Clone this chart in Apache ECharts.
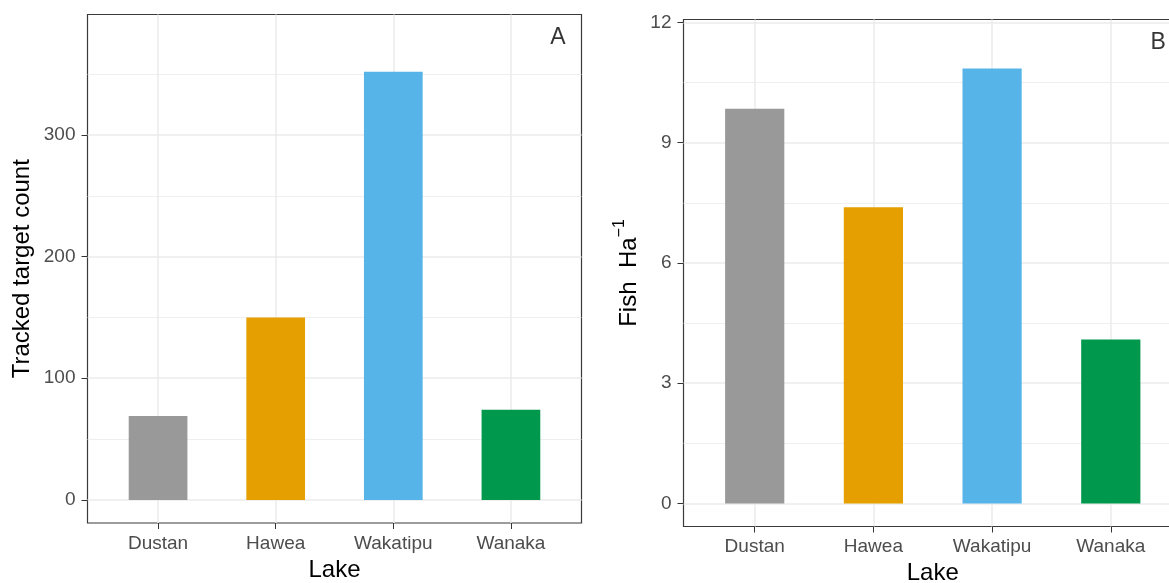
<!DOCTYPE html>
<html>
<head>
<meta charset="utf-8">
<title>Lake acoustic survey</title>
<script src="https://cdn.jsdelivr.net/npm/echarts@6/dist/echarts.min.js"></script>
<style>
  html, body { margin: 0; padding: 0; background: #ffffff; }
  #chart { width: 1169px; height: 583px; }
</style>
</head>
<body>
<div id="chart"></div>
<script>
// Lakes and their per-lake survey results
const lakes = ['Dustan', 'Hawea', 'Wakatipu', 'Wanaka'];
const trackedCounts = [69, 150, 352, 74];
const fishDensity = [9.85, 7.39, 10.85, 4.09];
const barColors = ['#999999', '#E69F00', '#56B4E9', '#00984C'];

// Axis breaks
const lakePositions = [1, 2, 3, 4];
const countTicks = [0, 100, 200, 300];
const countMinorTicks = [50, 150, 250, 350];
const densityTicks = [0, 3, 6, 9, 12];
const densityMinorTicks = [1.5, 4.5, 7.5, 10.5];

// Panel tags, placed in data space
const panelTags = [
  { text: 'A', x: 4.4, y: 380 },
  { text: 'B', x: 4.4, y: 11.5 }
];

const FONT = '"Liberation Sans", Arial, Helvetica, sans-serif';
const GRID_MAJOR = '#ebebeb';
const TICK_COLOR = '#333333';

function lakeAxis(gridIndex) {
  return {
    type: 'value',
    gridIndex: gridIndex,
    min: 0.4,
    max: 4.6,
    axisLine: { show: false, onZero: false },
    axisTick: { show: true, customValues: lakePositions, length: 6, lineStyle: { color: TICK_COLOR, width: 1 } },
    axisLabel: {
      customValues: lakePositions,
      formatter: v => lakes[Math.round(v) - 1] || '',
      color: '#4d4d4d', fontSize: 19, fontFamily: FONT, margin: 11
    },
    splitLine: { show: true, lineStyle: { color: GRID_MAJOR, width: 1.5 } },
    name: 'Lake',
    nameLocation: 'middle',
    nameGap: 34,
    nameTextStyle: { color: '#000000', fontSize: 24, fontFamily: FONT }
  };
}

function valueAxis(gridIndex, min, max, ticks, name, nameGap, nameStyle) {
  return {
    type: 'value',
    gridIndex: gridIndex,
    min: min,
    max: max,
    axisLine: { show: false, onZero: false },
    axisTick: { show: true, customValues: ticks, length: 6, lineStyle: { color: TICK_COLOR, width: 1 } },
    axisLabel: { customValues: ticks, color: '#4d4d4d', fontSize: 19, fontFamily: FONT, margin: 12 },
    splitLine: { show: true, lineStyle: { color: GRID_MAJOR, width: 1.5 } },
    name: name,
    nameLocation: 'middle',
    nameGap: nameGap,
    nameTextStyle: nameStyle
  };
}

// Hidden companion axis that only draws the thinner minor grid lines
function minorAxis(gridIndex, min, max, ticks) {
  return {
    type: 'value',
    gridIndex: gridIndex,
    position: 'left',
    min: min,
    max: max,
    axisLine: { show: false },
    axisTick: { show: false, customValues: ticks },
    axisLabel: { show: false, customValues: ticks },
    splitLine: { show: true, lineStyle: { color: GRID_MAJOR, width: 0.8 } }
  };
}

function barSeries(xIdx, yIdx, values, width) {
  return {
    type: 'bar',
    xAxisIndex: xIdx,
    yAxisIndex: yIdx,
    barWidth: width,
    z: 3,
    data: values.map((v, i) => ({
      value: [lakePositions[i], v],
      itemStyle: { color: barColors[i] }
    }))
  };
}

function tagSeries(xIdx, yIdx, tag) {
  return {
    type: 'scatter',
    xAxisIndex: xIdx,
    yAxisIndex: yIdx,
    symbolSize: 1,
    itemStyle: { color: 'rgba(0,0,0,0)' },
    silent: true,
    z: 5,
    label: {
      show: true, position: 'inside', formatter: tag.text,
      color: '#000000', fontSize: 23, fontFamily: FONT
    },
    data: [[tag.x, tag.y]]
  };
}

const chart = echarts.init(document.getElementById('chart'), null, { renderer: 'canvas' });

const option = {
  backgroundColor: '#ffffff',
  animation: false,
  grid: [
    { left: 87.5, top: 14.5, width: 494, height: 508.5, outerBoundsMode: 'none',
      show: true, borderColor: '#3a3a3a', borderWidth: 1.2, backgroundColor: 'transparent' },
    // the right-hand panel runs past the page edge
    { left: 683.5, top: 19.5, width: 498.5, height: 507, outerBoundsMode: 'none',
      show: true, borderColor: '#3a3a3a', borderWidth: 1.2, backgroundColor: 'transparent' }
  ],
  xAxis: [lakeAxis(0), lakeAxis(1)],
  yAxis: [
    valueAxis(0, -19, 399, countTicks, 'Tracked target count', 53,
      { color: '#000000', fontSize: 24, fontFamily: FONT }),
    valueAxis(1, -0.575, 12.075, densityTicks, '{t|Fish  Ha}{s|\u22121}', 42,
      {
        color: '#000000', fontFamily: FONT,
        rich: {
          t: { fontSize: 24, fontFamily: FONT, color: '#000000', lineHeight: 30, verticalAlign: 'bottom' },
          s: { fontSize: 16, fontFamily: FONT, color: '#000000', lineHeight: 16, verticalAlign: 'top' }
        }
      }),
    minorAxis(0, -19, 399, countMinorTicks),
    minorAxis(1, -0.575, 12.075, densityMinorTicks)
  ],
  series: [
    barSeries(0, 0, trackedCounts, 58.7),
    barSeries(1, 1, fishDensity, 59.2),
    tagSeries(0, 0, panelTags[0]),
    tagSeries(1, 1, panelTags[1])
  ]
};

chart.setOption(option);
</script>
</body>
</html>
